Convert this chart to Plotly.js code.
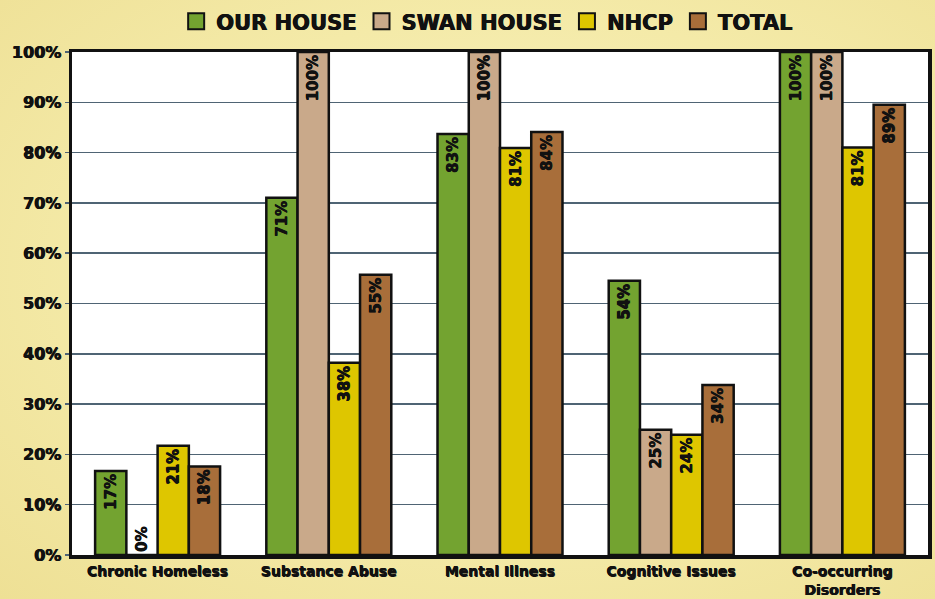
<!DOCTYPE html>
<html><head><meta charset="utf-8">
<script src="https://cdn.plot.ly/plotly-3.0.1.min.js"></script>
<style>
html,body{margin:0;padding:0;width:935px;height:599px;overflow:hidden;}
body{background:radial-gradient(ellipse at 55% 45%, #f9f3c8 0%, #f4eaa8 55%, #eee095 100%);}
#chart{width:935px;height:599px;}
</style></head>
<body><div id="chart"></div>
<script>
const categories = ['Chronic Homeless','Substance Abuse','Mental Illness','Cognitive Issues','Co-occurring<br>Disorders'];
const seriesNames = ['OUR HOUSE','SWAN HOUSE','NHCP','TOTAL'];
const seriesColors = ['#73a330','#c9a98a','#dec600','#a86e3a'];
// bar heights (%)
const ourHouse  = [16.7, 71.0, 83.7, 54.5, 100];
const swanHouse = [0,   100,  100,  24.9, 100];
const nhcp      = [21.7, 38.2, 80.9, 23.9, 81.0];
const total     = [17.6, 55.7, 84.1, 33.8, 89.5];
// printed labels
const ourHouseLabels  = ['17%','71%','83%','54%','100%'];
const swanHouseLabels = ['0%','100%','100%','25%','100%'];
const nhcpLabels      = ['21%','38%','81%','24%','81%'];
const totalLabels     = ['18%','55%','84%','34%','89%'];
const yTicks = [0,10,20,30,40,50,60,70,80,90,100];

const FONT = 'DejaVu Sans, sans-serif';
const SH = '0.5px 0.3px 0 #111, -0.3px 0 0 #111';
const f = (size) => ({family:FONT, size:size, color:'#111', weight:'bold', shadow:SH});
const seriesVals = [ourHouse, swanHouse, nhcp, total];
const seriesLabels = [ourHouseLabels, swanHouseLabels, nhcpLabels, totalLabels];

const traces = [];
seriesVals.forEach((vals, i) => {
  traces.push({
    type:'bar', x:categories, y:vals, name:seriesNames[i], showlegend:false,
    marker:{color:seriesColors[i], line:{color:'#111', width:2.5}},
    text:seriesLabels[i],
    textposition: vals.map(v => v === 0 ? 'outside' : 'inside'),
    insidetextanchor:'end', textangle:-90, constraintext:'none',
    textfont:f(15), insidetextfont:f(15), outsidetextfont:f(15),
    cliponaxis:false, hoverinfo:'skip'
  });
});
// legend entries
seriesNames.forEach((n, i) => {
  traces.push({
    type:'scatter', mode:'markers', x:[null], y:[null], name:n, showlegend:true,
    marker:{symbol:'square', size:16, color:seriesColors[i], line:{color:'#111', width:2}},
    hoverinfo:'skip'
  });
});

const layout = {
  width:935, height:599,
  margin:{l:72, r:7, t:52, b:44},
  paper_bgcolor:'rgba(0,0,0,0)', plot_bgcolor:'#ffffff',
  font:{family:FONT, color:'#111', weight:'bold'},
  barmode:'group', bargap:0.27, bargroupgap:0,
  showlegend:true,
  legend:{orientation:'h', x:0.485, xanchor:'center', y:0.998, yref:'container', yanchor:'top',
    font:f(21), bgcolor:'rgba(0,0,0,0)', itemwidth:30, tracegroupgap:0},
  xaxis:{type:'category', showline:true, mirror:true, linecolor:'#111', linewidth:3.5,
    tickfont:f(14), ticks:'', ticklabelstandoff:1, fixedrange:true},
  yaxis:{range:[0,100], tickvals:yTicks, ticktext:yTicks.map(v=>v+'%'),
    showline:true, mirror:true, linecolor:'#111', linewidth:3.5,
    showgrid:true, gridcolor:'#4f6474', gridwidth:1.5,
    ticks:'outside', ticklen:4, tickcolor:'#4f6474', tickwidth:1.5,
    tickfont:f(16), zeroline:false, fixedrange:true}
};
Plotly.newPlot('chart', traces, layout, {displayModeBar:false, staticPlot:true});
</script></body></html>
